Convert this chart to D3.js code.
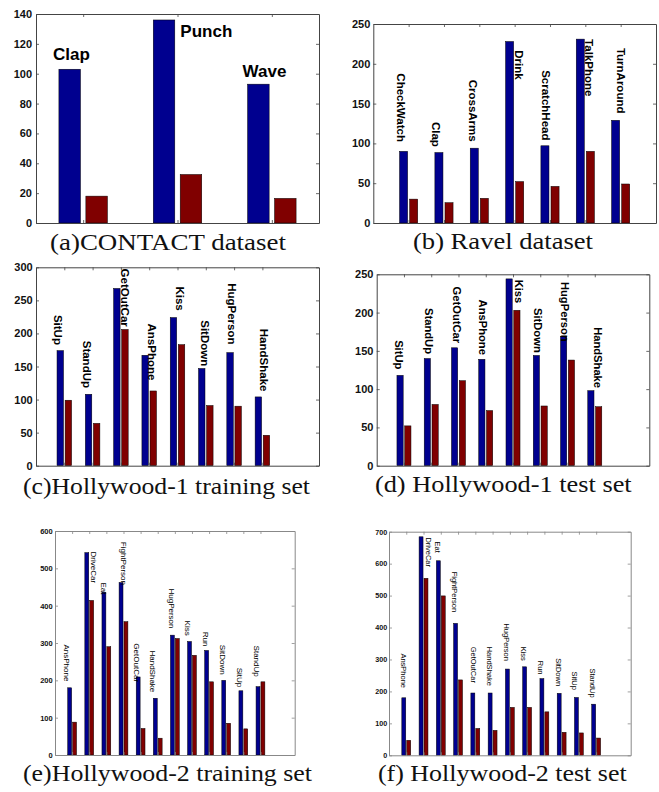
<!DOCTYPE html>
<html><head><meta charset="utf-8">
<script src="https://cdn.jsdelivr.net/npm/d3@7"></script>
<style>
body{margin:0;background:#fff;}
svg{display:block;}
</style>
</head><body>
<svg id="chart" width="659" height="792"></svg>
<script>
// ---------- data ----------
// (a) CONTACT dataset
const contactCats = ["Clap","Punch","Wave"];
const contactBlue = [103, 136, 93];
const contactRed  = [18, 32.5, 16.5];
const contactTicks = [0,20,40,60,80,100,120,140];
const contactLabelX = [-0.32, 0.03, -0.31];   // label anchor, group units from group centre
const contactLabelY = [109.5, 124.5, 97.5];   // label baseline, data units

// (b) Ravel dataset
const ravelCats = ["CheckWatch","Clap","CrossArms","Drink","ScratchHead","TalkPhone","TurnAround"];
const ravelBlue = [90, 88.5, 94, 228, 97, 231, 129];
const ravelRed  = [30, 25.5, 31, 52, 46, 90, 49];
const ravelTicks = [0,50,100,150,200,250];
const ravelLabelX = [-0.22,-0.22,-0.18,0.11,-0.11,0.10,0.0];
const ravelLabelY = [188,127,180,217,192,231,220];

// (c) Hollywood-1 training set
const h1TrainCats = ["SitUp","StandUp","GetOutCar","AnsPhone","Kiss","SitDown","HugPerson","HandShake"];
const h1TrainBlue = [174, 108, 268, 167, 224, 147, 171, 104];
const h1TrainRed  = [99, 64, 206, 113, 183, 91, 90, 46];
const h1TrainTicks = [0,50,100,150,200,250,300];
const h1TrainLabelX = [-0.21,-0.21,0.14,0.09,0.09,-0.03,-0.08,0.06];
const h1TrainLabelY = [228,189,298,215,271,220,276,207];

// (d) Hollywood-1 test set
const h1TestCats = ["SitUp","StandUp","GetOutCar","AnsPhone","Kiss","SitDown","HugPerson","HandShake"];
const h1TestBlue = [118, 140, 154, 139, 244, 144, 169, 98];
const h1TestRed  = [52, 80, 111, 72, 203, 78, 138, 77];
const h1TestTicks = [0,50,100,150,200,250];
const h1TestLabelX = [-0.18,-0.09,-0.07,-0.09,0.23,-0.07,-0.09,0.13];
const h1TestLabelY = [164,206,234,217,243,206,240,181];

// (e) Hollywood-2 training set
const h2TrainCats = ["AnsPhone","DriveCar","Eat","FightPerson","GetOutCar","HandShake","HugPerson","Kiss","Run","SitDown","SitUp","StandUp"];
const h2TrainBlue = [180, 542, 436, 462, 209, 152, 321, 304, 280, 200, 172, 183];
const h2TrainRed  = [88, 414, 290, 357, 71, 45, 312, 267, 196, 85, 70, 196];
const h2TrainTicks = [0,100,200,300,400,500,600];
const h2TrainLabelX = [-0.32,0.25,-0.17,0.02,-0.25,-0.33,-0.21,-0.24,-0.19,-0.19,-0.21,-0.22];
const h2TrainLabelY = [296,545,462,571,299,280,446,360,330,295,234,293];

// (f) Hollywood-2 test set
const h2TestCats = ["AnsPhone","DriveCar","Eat","FightPerson","GetOutCar","HandShake","HugPerson","Kiss","Run","SitDown","SitUp","StandUp"];
const h2TestBlue = [180, 684, 609, 413, 195, 195, 270, 277, 240, 194, 181, 160];
const h2TestRed  = [47, 554, 499, 236, 84, 78, 150, 150, 136, 72, 70, 54];
const h2TestTicks = [0,100,200,300,400,500,600,700];
const h2TestLabelX = [-0.17,0.31,-0.17,-0.19,-0.13,-0.2,-0.2,-0.2,-0.22,-0.21,-0.24,-0.21];
const h2TestLabelY = [319,682,669,575,340,340,413,340,296,304,262,272];

const captions = ["(a)CONTACT dataset","(b) Ravel dataset","(c)Hollywood-1 training set",
                  "(d) Hollywood-1 test set","(e)Hollywood-2 training set","(f) Hollywood-2 test set"];

// ---------- layout ----------
const BLUE = "#00008f", RED = "#800000";
const panels = [
  {cats:contactCats, blue:contactBlue, red:contactRed, ticks:contactTicks, lx:contactLabelX, ly:contactLabelY,
   box:[36,319,14,223], xd:[0.5,3.5], rot:false, lab:{size:17, weight:"bold"}, tick:{size:11, weight:"bold", pad:4},
   frame:"#444", cap:{text:captions[0], cx:168, y:250, w:236}},
  {cats:ravelCats, blue:ravelBlue, red:ravelRed, ticks:ravelTicks, lx:ravelLabelX, ly:ravelLabelY,
   box:[373.3,656,24,223], xd:[0,8], rot:true, lab:{size:11.5, weight:"bold"}, tick:{size:11, weight:"bold", pad:3},
   frame:"#444", cap:{text:captions[1], cx:503, y:249, w:180}},
  {cats:h1TrainCats, blue:h1TrainBlue, red:h1TrainRed, ticks:h1TrainTicks, lx:h1TrainLabelX, ly:h1TrainLabelY,
   box:[36,319,267.3,465.7], xd:[0,10], rot:true, lab:{size:11.5, weight:"bold"}, tick:{size:11, weight:"bold", pad:3.3},
   frame:"#444", cap:{text:captions[2], cx:166.5, y:494, w:287}},
  {cats:h1TestCats, blue:h1TestBlue, red:h1TestRed, ticks:h1TestTicks, lx:h1TestLabelX, ly:h1TestLabelY,
   box:[376.7,649.3,274.3,465.7], xd:[0,10], rot:true, lab:{size:11.2, weight:"bold"}, tick:{size:11, weight:"bold", pad:3.3},
   frame:"#444", cap:{text:captions[3], cx:503.3, y:492, w:256.7}},
  {cats:h2TrainCats, blue:h2TrainBlue, red:h2TrainRed, ticks:h2TrainTicks, lx:h2TrainLabelX, ly:h2TrainLabelY,
   box:[55,294.7,531,755], xd:[0,14], rot:true, lab:{size:8, weight:"normal"}, tick:{size:7.5, weight:"bold", pad:2.3},
   frame:"#888", cap:{text:captions[4], cx:167.5, y:781, w:289}},
  {cats:h2TestCats, blue:h2TestBlue, red:h2TestRed, ticks:h2TestTicks, lx:h2TestLabelX, ly:h2TestLabelY,
   box:[389,630.7,531.7,755.3], xd:[0,14], rot:true, lab:{size:7.5, weight:"normal"}, tick:{size:7.2, weight:"bold", pad:1.8},
   frame:"#888", cap:{text:captions[5], cx:502.3, y:781, w:248.7}}
];

const svg = d3.select("#chart");
const SANS = "'Liberation Sans', Arial, sans-serif";

panels.forEach(p => {
  const [x0,x1,y0,y1] = p.box;
  const x = d3.scaleLinear().domain(p.xd).range([x0,x1]);
  const y = d3.scaleLinear().domain([p.ticks[0], p.ticks[p.ticks.length-1]]).range([y1,y0]);
  const g = svg.append("g");
  const groups = p.cats.map((c,i)=>i+1);
  const off = 1/7, bw = 0.8*2/7;
  const w = x(bw) - x(0);

  // bars
  const gb = g.append("g");
  p.cats.forEach((c,i) => {
    const gi = groups[i];
    gb.append("rect").attr("x", x(gi-off)-w/2).attr("y", y(p.blue[i]))
      .attr("width", w).attr("height", y(0)-y(p.blue[i]))
      .attr("fill", BLUE).attr("stroke","#000").attr("stroke-width",0.5);
    gb.append("rect").attr("x", x(gi+off)-w/2).attr("y", y(p.red[i]))
      .attr("width", w).attr("height", y(0)-y(p.red[i]))
      .attr("fill", RED).attr("stroke","#000").attr("stroke-width",0.5);
  });

  // axes (inward ticks, full box)
  const tl = 3;
  const axL = g.append("g").attr("transform",`translate(${x0},0)`)
    .call(d3.axisLeft(y).tickValues(p.ticks).tickSize(-tl).tickSizeOuter(0).tickPadding(p.tick.pad).tickFormat(d3.format("d")));
  const axR = g.append("g").attr("transform",`translate(${x1},0)`)
    .call(d3.axisRight(y).tickValues(p.ticks).tickSize(-tl).tickSizeOuter(0).tickFormat(""));
  const axT = g.append("g").attr("transform",`translate(0,${y0})`)
    .call(d3.axisTop(x).tickValues(groups).tickSize(-tl).tickSizeOuter(0).tickFormat(""));
  const axB = g.append("g").attr("transform",`translate(0,${y1})`)
    .call(d3.axisBottom(x).tickValues(groups).tickSize(-tl).tickSizeOuter(0).tickFormat(""));
  [axL,axR,axT,axB].forEach(a => {
    a.select(".domain").attr("stroke", p.frame).attr("stroke-width",1);
    a.selectAll(".tick line").attr("stroke", p.frame).attr("stroke-width",0.8);
  });
  axL.selectAll(".tick text").attr("fill","#111")
    .style("font-family", SANS).style("font-size", p.tick.size+"px").style("font-weight", p.tick.weight);

  // category labels
  const gl = g.append("g").style("font-family", SANS)
    .style("font-size", p.lab.size+"px").style("font-weight", p.lab.weight).attr("fill","#000");
  p.cats.forEach((c,i) => {
    const px = x(groups[i] + p.lx[i]), py = y(p.ly[i]);
    if (p.rot) {
      gl.append("text").attr("transform",`translate(${px},${py}) rotate(90)`)
        .attr("text-anchor","start").attr("dominant-baseline","central").text(c);
    } else {
      gl.append("text").attr("x", px).attr("y", py).text(c);
    }
  });

  // caption
  g.append("text").attr("x", p.cap.cx).attr("y", p.cap.y)
    .attr("text-anchor","middle")
    .attr("textLength", p.cap.w).attr("lengthAdjust","spacingAndGlyphs")
    .style("font-family","'Liberation Serif','Times New Roman',serif")
    .style("font-size","23px").attr("fill","#111").text(p.cap.text);
});
</script>
</body></html>
